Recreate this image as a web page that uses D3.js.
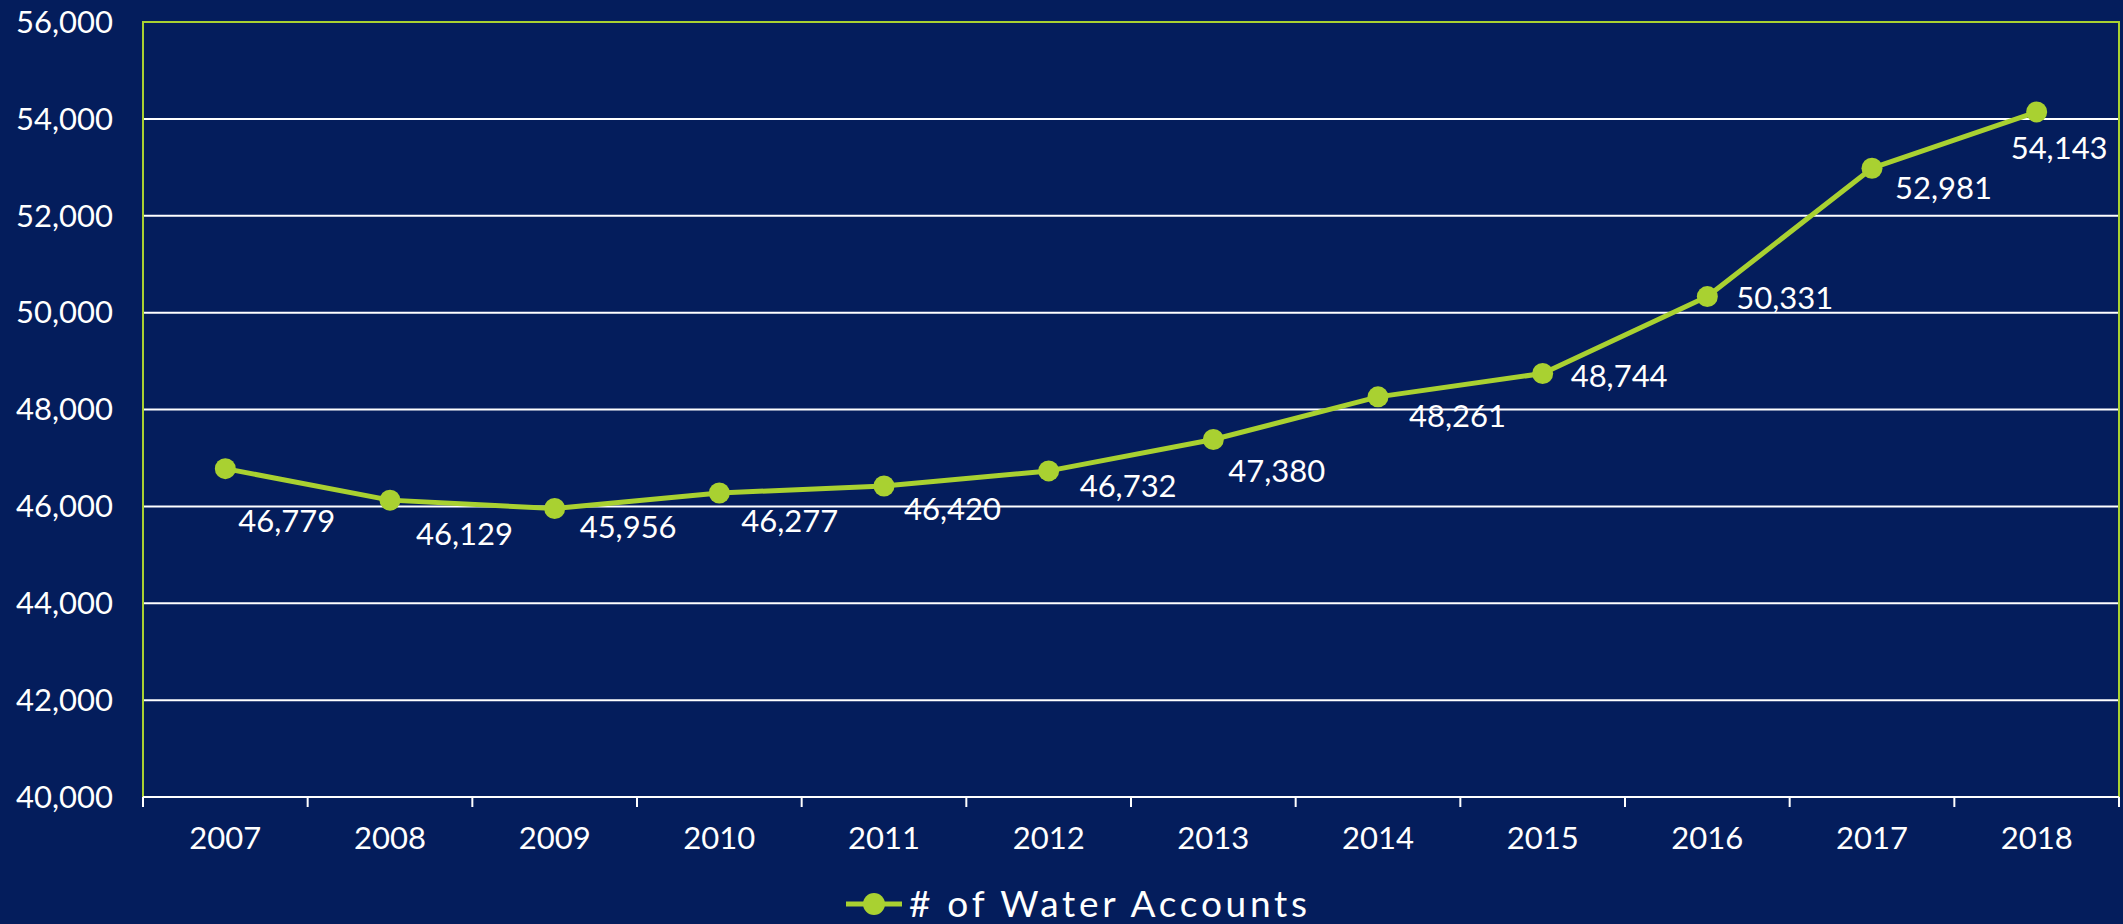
<!DOCTYPE html>
<meta charset="utf-8">
<script src="https://d3js.org/d3.v7.min.js"></script>
<style>
  html, body { margin: 0; padding: 0; background: #041d5c; }
  svg text { font-family: Lato, "Open Sans", sans-serif; fill: #fff; }
</style>
<div id="chart"></div>
<script>
  // data
  var years = ["2007", "2008", "2009", "2010", "2011", "2012", "2013", "2014", "2015", "2016", "2017", "2018"];
  var accounts = [46779, 46129, 45956, 46277, 46420, 46732, 47380, 48261, 48744, 50331, 52981, 54143];
  var yTicks = [40000, 42000, 44000, 46000, 48000, 50000, 52000, 54000, 56000];
  var seriesName = "# of Water Accounts";

  // label placement (pixels from point: left edge, baseline)
  var labelNudge = [[13, 63], [26, 45], [25, 29], [22, 39], [20, 34], [31, 26],
                    [15, 42], [31, 30], [28, 14], [29, 12], [23, 31], [-26, 47]];

  var width = 2123, height = 924;
  var margin = { top: 22, right: 4, bottom: 127, left: 143 };
  var green = "#a9d131";

  var svg = d3.select("#chart").append("svg")
    .attr("width", width)
    .attr("height", height);

  svg.append("rect").attr("width", width).attr("height", height).attr("fill", "#041d5c");

  var x = d3.scaleBand()
    .domain(years)
    .range([margin.left, width - margin.right]);

  var y = d3.scaleLinear()
    .domain([40000, 56000])
    .range([height - margin.bottom, margin.top]);

  var fmt = d3.format(",");

  // gridlines
  svg.append("g")
    .selectAll("line")
    .data(yTicks.filter(d => d > 40000 && d < 56000))
    .join("line")
    .attr("x1", margin.left)
    .attr("x2", width - margin.right)
    .attr("y1", d => y(d))
    .attr("y2", d => y(d))
    .attr("stroke", "#fff")
    .attr("stroke-width", 2);

  // plot border (top, left, right) in green
  svg.append("path")
    .attr("d", `M${margin.left},${height - margin.bottom} V${margin.top} H${width - margin.right} V${height - margin.bottom}`)
    .attr("fill", "none")
    .attr("stroke", green)
    .attr("stroke-width", 2);

  // y labels
  svg.append("g")
    .selectAll("text")
    .data(yTicks)
    .join("text")
    .attr("x", margin.left - 30)
    .attr("y", d => y(d))
    .attr("dy", "0.35em")
    .attr("text-anchor", "end")
    .style("font-size", "31px")
    .text(d => fmt(d));

  // x axis
  var xAxis = svg.append("g")
    .attr("transform", `translate(0,${height - margin.bottom})`);
  xAxis.append("line")
    .attr("x1", margin.left).attr("x2", width - margin.right)
    .attr("stroke", "#fff").attr("stroke-width", 2);
  var bounds = years.map(d => x(d)).concat([x.range()[1]]);
  xAxis.selectAll("line.tick")
    .data(bounds)
    .join("line")
    .attr("class", "tick")
    .attr("x1", d => d).attr("x2", d => d)
    .attr("y1", 0).attr("y2", 10)
    .attr("stroke", "#fff").attr("stroke-width", 2);
  xAxis.selectAll("text")
    .data(years)
    .join("text")
    .attr("x", d => x(d) + x.bandwidth() / 2)
    .attr("y", 52)
    .attr("text-anchor", "middle")
    .style("font-size", "31px")
    .text(d => d);

  var pts = years.map((d, i) => ({ year: d, value: accounts[i], i: i }));
  var cx = d => x(d.year) + x.bandwidth() / 2;

  var line = d3.line()
    .x(cx)
    .y(d => y(d.value));

  svg.append("path")
    .datum(pts)
    .attr("d", line)
    .attr("fill", "none")
    .attr("stroke", green)
    .attr("stroke-width", 5)
    .attr("stroke-linejoin", "round");

  svg.append("g")
    .selectAll("circle")
    .data(pts)
    .join("circle")
    .attr("cx", cx)
    .attr("cy", d => y(d.value))
    .attr("r", 10.5)
    .attr("fill", green);

  svg.append("g")
    .selectAll("text")
    .data(pts)
    .join("text")
    .attr("x", d => cx(d) + labelNudge[d.i][0])
    .attr("y", d => y(d.value) + labelNudge[d.i][1])
    .style("font-size", "31px")
    .text(d => fmt(d.value));

  // legend
  var lg = svg.append("g").attr("transform", "translate(846,904)");
  lg.append("line").attr("x1", 0).attr("x2", 56)
    .attr("stroke", green).attr("stroke-width", 5);
  lg.append("circle").attr("cx", 28).attr("r", 11).attr("fill", green);
  lg.append("text")
    .attr("x", 63)
    .attr("y", 13)
    .attr("textLength", 398)
    .attr("lengthAdjust", "spacing")
    .style("font-size", "37px")
    .text(seriesName);
</script>
